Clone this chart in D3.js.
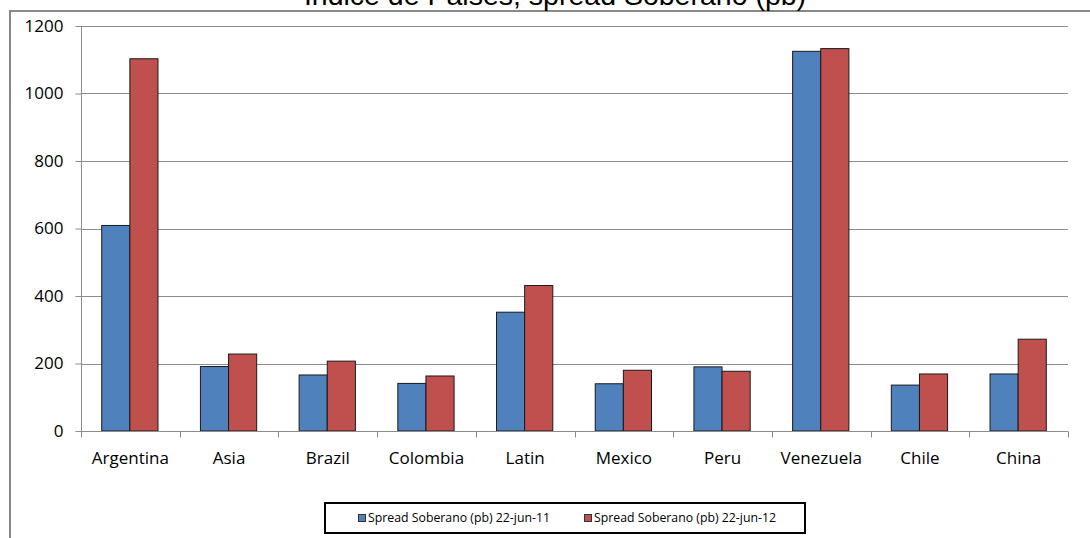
<!DOCTYPE html>
<html>
<head>
<meta charset="utf-8">
<script src="https://cdn.jsdelivr.net/npm/d3@7"></script>
<style>
html,body{margin:0;padding:0;background:#fff;}
svg{display:block;}
</style>
</head>
<body>
<svg id="chart" width="1090" height="538"></svg>
<script>
const categories = ["Argentina","Asia","Brazil","Colombia","Latin","Mexico","Peru","Venezuela","Chile","China"];
const seriesNames = ["Spread Soberano (pb) 22-jun-11","Spread Soberano (pb) 22-jun-12"];
const values2011 = [609, 191, 166, 141, 352, 140, 190, 1125, 136, 169];
const values2012 = [1103, 228, 207, 163, 431, 180, 177, 1133, 169, 272];
const yTicks = [0, 200, 400, 600, 800, 1000, 1200];
const colors = ["#4F81BD", "#C0504D"];
const title = "Indice de Paises, spread Soberano (pb)";

const svg = d3.select("#chart");
const plot = {left: 81, right: 1068, top: 26, bottom: 431};

// chart area border (extends beyond the visible page to right and bottom)
svg.append("rect")
  .attr("x", 10).attr("y", 11)
  .attr("width", 1200).attr("height", 600)
  .attr("fill", "#fff").attr("stroke", "#888").attr("stroke-width", 2);

// title (cut at the top edge, as in the reference)
svg.append("text")
  .attr("x", 555).attr("y", 5)
  .attr("text-anchor", "middle")
  .attr("font-family", "Liberation Sans, Arial, sans-serif")
  .attr("font-size", 28.5)
  .attr("fill", "#000")
  .text(title);

const y = d3.scaleLinear().domain([0, 1200]).range([plot.bottom, plot.top]);
const x0 = d3.scaleBand().domain(categories).range([plot.left, plot.right]).padding(0);
const bw = x0.bandwidth();
const x1 = d3.scaleBand().domain([0, 1]).range([bw * 0.21, bw * 0.78]).padding(0);

// gridlines
svg.append("g")
  .selectAll("line")
  .data(yTicks.filter(d => d > 0))
  .join("line")
  .attr("x1", plot.left).attr("x2", plot.right)
  .attr("y1", d => Math.round(y(d)) + 0.5).attr("y2", d => Math.round(y(d)) + 0.5)
  .attr("stroke", "#8c8c8c").attr("stroke-width", 1);

// y axis
const yAxis = d3.axisLeft(y).tickValues(yTicks).tickFormat(d3.format("d")).tickSize(6).tickPadding(12).tickSizeOuter(0);
const gy = svg.append("g").attr("transform", `translate(${plot.left + 0.5},0)`).call(yAxis);
gy.select(".domain").remove();
gy.append("line").attr("x1", 0).attr("x2", 0).attr("y1", plot.top).attr("y2", plot.bottom + 6).attr("stroke", "#8c8c8c");
gy.selectAll(".tick line").attr("stroke", "#8c8c8c");
gy.selectAll(".tick text")
  .attr("font-family", "Open Sans, sans-serif").attr("font-size", 17).attr("fill", "#000");

// bars
const data = categories.map((c, i) => ({cat: c, vals: [values2011[i], values2012[i]]}));
const groups = svg.append("g").selectAll("g")
  .data(data).join("g")
  .attr("transform", d => `translate(${x0(d.cat)},0)`);
groups.selectAll("rect")
  .data(d => d.vals.map((v, k) => ({v, k})))
  .join("rect")
  .attr("x", d => x1(d.k))
  .attr("y", d => y(d.v))
  .attr("width", x1.bandwidth())
  .attr("height", d => y(0) - y(d.v))
  .attr("fill", d => colors[d.k])
  .attr("stroke", "#1a1a1a").attr("stroke-width", 1);

// x axis
const xAxis = d3.axisBottom(x0).tickSize(0).tickPadding(0);
const gx = svg.append("g").attr("transform", `translate(0,${plot.bottom + 0.5})`).call(xAxis);
gx.select(".domain").remove();
gx.append("line").attr("x1", plot.left).attr("x2", plot.right).attr("y1", 0).attr("y2", 0).attr("stroke", "#8c8c8c");
gx.selectAll(".tick text")
  .attr("y", 32)
  .attr("dy", 0)
  .attr("font-family", "Open Sans, sans-serif").attr("font-size", 17).attr("fill", "#000");
// boundary tick marks
const bounds = categories.map(c => x0(c)).concat([plot.right]);
gx.selectAll(".bound").data(bounds).join("line")
  .attr("class", "bound")
  .attr("x1", d => Math.round(d) + 0.5).attr("x2", d => Math.round(d) + 0.5)
  .attr("y1", 0).attr("y2", 6)
  .attr("stroke", "#8c8c8c");

// legend
const lg = svg.append("g");
lg.append("rect").attr("x", 325).attr("y", 503).attr("width", 480).attr("height", 30)
  .attr("fill", "#fff").attr("stroke", "#000").attr("stroke-width", 2);
const legX = [358, 584];
seriesNames.forEach((s, k) => {
  lg.append("rect").attr("x", legX[k] + 0.5).attr("y", 514.5).attr("width", 7).attr("height", 7)
    .attr("fill", colors[k]).attr("stroke", "#333").attr("stroke-width", 1);
  lg.append("text").attr("x", legX[k] + 10).attr("y", 522)
    .attr("font-family", "Open Sans, sans-serif").attr("font-size", 12.3).attr("fill", "#000")
    .text(s);
});
</script>
</body>
</html>
